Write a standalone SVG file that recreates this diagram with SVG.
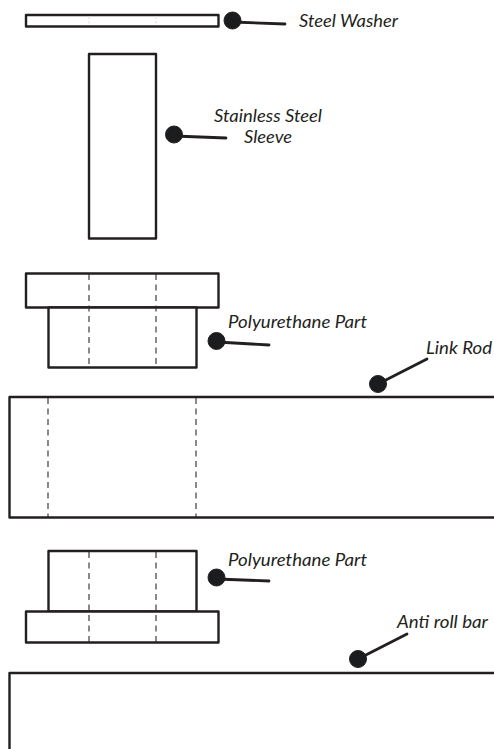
<svg xmlns="http://www.w3.org/2000/svg" width="494" height="749" viewBox="0 0 494 749">
<style>
.p{fill:#fff;stroke:#231f20;stroke-width:2.400;stroke-linejoin:round}
.d{fill:none;stroke:#2b2b2b;stroke-width:1.100;stroke-dasharray:6 4.500}
.dot{fill:#1b1c1e;stroke:#231f20}
.lead{fill:none;stroke:#231f20;stroke-width:2.800;stroke-linecap:round}
text{font-family:Lato,"Noto Sans",sans-serif;font-style:italic;font-size:16.500px;fill:#231f20}
</style>
<rect width="494" height="749" fill="#fff"/>
<g id="steel-washer">
<rect class="p" x="26" y="15" width="192.500" height="11.500"/>
<line x1="89" y1="16" x2="89" y2="26" stroke="#ddd" stroke-width="1" stroke-dasharray="3 1.500 3"/>
<line x1="156" y1="16" x2="156" y2="26" stroke="#ddd" stroke-width="1" stroke-dasharray="3 1.500 3"/>
</g>
<g id="sleeve"><rect class="p" x="89" y="54" width="67" height="184.500"/></g>
<g id="poly-upper">
<rect class="p" x="26" y="273.500" width="192.500" height="34"/>
<rect class="p" x="48.500" y="307.500" width="148" height="60"/>
<line class="d" x1="89" y1="274" x2="89" y2="367"/>
<line class="d" x1="156" y1="274" x2="156" y2="367"/>
</g>
<g id="link-rod">
<path class="p" d="M495 397H9.500V517.500H495"/>
<line class="d" x1="48" y1="398" x2="48" y2="517"/>
<line class="d" x1="196" y1="398" x2="196" y2="517"/>
</g>
<g id="poly-lower">
<rect class="p" x="48.500" y="551" width="148" height="60.500"/>
<rect class="p" x="26" y="611.500" width="192.500" height="31"/>
<line class="d" x1="89" y1="552" x2="89" y2="642"/>
<line class="d" x1="156" y1="552" x2="156" y2="642"/>
</g>
<g id="anti-roll-bar"><path class="p" d="M495 673H9.500V750"/></g>
<g id="connectors">
<line class="lead" x1="232" y1="22" x2="285" y2="24"/>
<line class="lead" x1="174" y1="136" x2="226" y2="138"/>
<line class="lead" x1="217" y1="342" x2="269" y2="345"/>
<line class="lead" x1="378" y1="384" x2="427" y2="359"/>
<line class="lead" x1="217" y1="579" x2="269" y2="581"/>
<line class="lead" x1="358" y1="659" x2="407" y2="634"/>
</g>
<g id="labels">
<circle class="dot" cx="232.500" cy="20.500" r="8.500"/>
<circle class="dot" cx="174" cy="134.500" r="8.500"/>
<circle class="dot" cx="216.500" cy="341" r="8.500"/>
<circle class="dot" cx="378" cy="384" r="8.500"/>
<circle class="dot" cx="216.500" cy="577.500" r="8.500"/>
<circle class="dot" cx="358" cy="659" r="8.500"/>
<text x="299" y="27" textLength="99" lengthAdjust="spacingAndGlyphs">Steel Washer</text>
<text x="214" y="122" textLength="108" lengthAdjust="spacingAndGlyphs">Stainless Steel</text>
<text x="244" y="143" textLength="48" lengthAdjust="spacingAndGlyphs">Sleeve</text>
<text x="228" y="328" textLength="139" lengthAdjust="spacingAndGlyphs">Polyurethane Part</text>
<text x="426" y="354" textLength="66" lengthAdjust="spacingAndGlyphs">Link Rod</text>
<text x="228" y="566" textLength="139" lengthAdjust="spacingAndGlyphs">Polyurethane Part</text>
<text x="397" y="628" textLength="91" lengthAdjust="spacingAndGlyphs">Anti roll bar</text>
</g>
</svg>
